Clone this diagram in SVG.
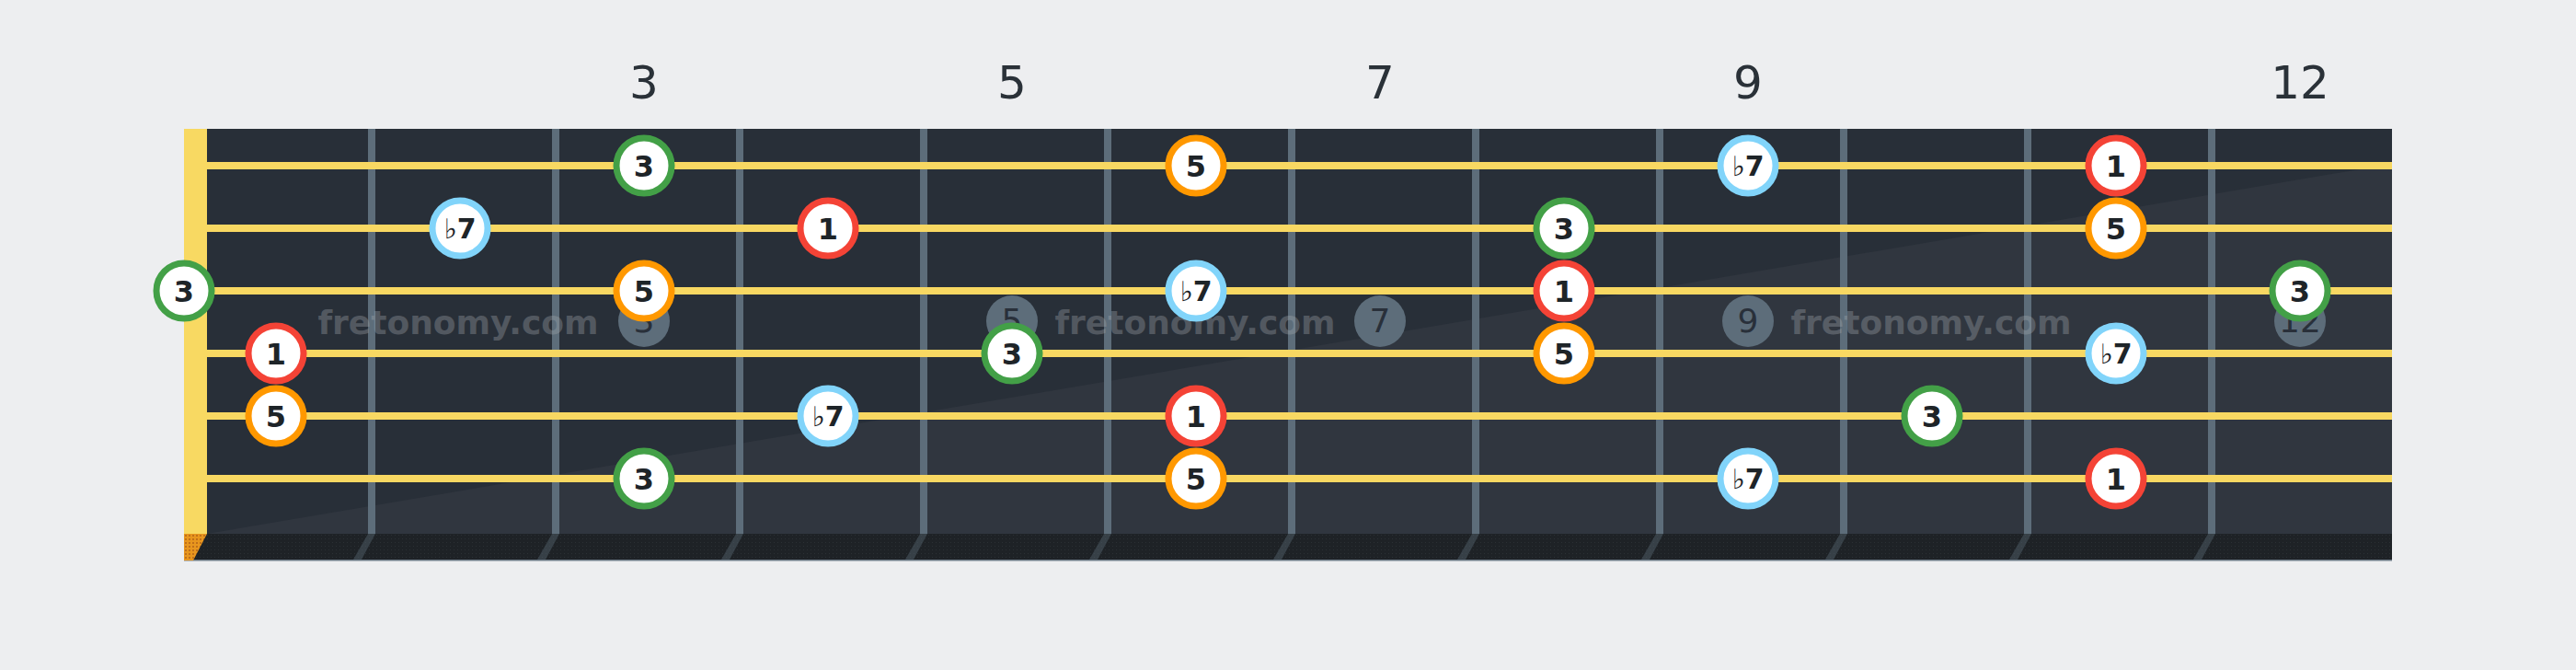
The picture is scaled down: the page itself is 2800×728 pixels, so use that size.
<svg xmlns="http://www.w3.org/2000/svg" width="2800" height="728" viewBox="0 0 2800 728">
<defs>
<style>
.fret{fill:#5d6d7a}
.str{fill:#f8d862}
.shadow{fill:#5d6d7a;opacity:0.4}
.lbl{font-family:"DejaVu Sans",sans-serif;font-size:50px;fill:#2a3138;text-anchor:middle}
.mk circle{fill:#5d6d7a}
.mk text{font-family:"DejaVu Sans",sans-serif;font-size:36px;fill:#29303a;text-anchor:middle}
.wm{font-family:"DejaVu Sans",sans-serif;font-weight:bold;font-size:36px;fill:#a8adb2;opacity:0.33;text-anchor:middle}
.note circle{fill:#ffffff;stroke-width:7}
.note text{font-family:"DejaVu Sans",sans-serif;font-weight:bold;font-size:32px;fill:#1e2428;text-anchor:middle}
.note text.f{font-size:30px}
.note tspan.fl{font-weight:normal}
.r1 circle{stroke:#f44336}
.r3 circle{stroke:#43a047}
.r5 circle{stroke:#ff9800}
.r7 circle{stroke:#81d4fa}
</style>
<pattern id="dots" width="4" height="4" patternUnits="userSpaceOnUse">
<rect width="4" height="4" fill="#1e2226"/>
<rect x="1" y="1" width="1" height="1" fill="#2b3034"/>
</pattern>
<pattern id="odots" width="4" height="4" patternUnits="userSpaceOnUse">
<rect width="4" height="4" fill="#e8961e"/>
<rect x="1" y="1" width="2" height="2" fill="#c0701a"/>
</pattern>
</defs>
<rect width="2800" height="728" fill="#edeef0"/>
<g id="fret-labels">
<text class="lbl" x="700" y="107">3</text>
<text class="lbl" x="1100" y="107">5</text>
<text class="lbl" x="1500" y="107">7</text>
<text class="lbl" x="1900" y="107">9</text>
<text class="lbl" x="2500" y="107">12</text>
</g>
<g id="board">
<rect x="225" y="140" width="2375" height="440" fill="#282f38"/>
<polygon points="225,580 2600,178 2600,580" fill="#30363f"/>
<rect x="200" y="580" width="2400" height="28" fill="url(#dots)"/>
<rect x="200" y="608" width="2400" height="1.5" fill="#6b7884"/>
<polygon points="200,580 225,580 210,609 200,609" fill="url(#odots)"/>
<rect x="200" y="140" width="25" height="440" fill="#f8d962"/>
<g id="frets">
<rect class="fret" x="400" y="140" width="8" height="440"/>
<rect class="fret" x="600" y="140" width="8" height="440"/>
<rect class="fret" x="800" y="140" width="8" height="440"/>
<rect class="fret" x="1000" y="140" width="8" height="440"/>
<rect class="fret" x="1200" y="140" width="8" height="440"/>
<rect class="fret" x="1400" y="140" width="8" height="440"/>
<rect class="fret" x="1600" y="140" width="8" height="440"/>
<rect class="fret" x="1800" y="140" width="8" height="440"/>
<rect class="fret" x="2000" y="140" width="8" height="440"/>
<rect class="fret" x="2200" y="140" width="8" height="440"/>
<rect class="fret" x="2400" y="140" width="8" height="440"/>
</g>
<g id="fret-shadows">
<polygon class="shadow" points="400,580 408,580 393,608 384,608"/>
<polygon class="shadow" points="600,580 608,580 593,608 584,608"/>
<polygon class="shadow" points="800,580 808,580 793,608 784,608"/>
<polygon class="shadow" points="1000,580 1008,580 993,608 984,608"/>
<polygon class="shadow" points="1200,580 1208,580 1193,608 1184,608"/>
<polygon class="shadow" points="1400,580 1408,580 1393,608 1384,608"/>
<polygon class="shadow" points="1600,580 1608,580 1593,608 1584,608"/>
<polygon class="shadow" points="1800,580 1808,580 1793,608 1784,608"/>
<polygon class="shadow" points="2000,580 2008,580 1993,608 1984,608"/>
<polygon class="shadow" points="2200,580 2208,580 2193,608 2184,608"/>
<polygon class="shadow" points="2400,580 2408,580 2393,608 2384,608"/>
</g>
<g id="strings">
<rect class="str" x="225" y="176" width="2375" height="8"/>
<rect class="str" x="225" y="244" width="2375" height="8"/>
<rect class="str" x="225" y="312" width="2375" height="8"/>
<rect class="str" x="225" y="380" width="2375" height="8"/>
<rect class="str" x="225" y="448" width="2375" height="8"/>
<rect class="str" x="225" y="516" width="2375" height="8"/>
</g>
<g id="markers">
<g class="mk"><circle cx="700" cy="349" r="28"/><text x="700" y="361">3</text></g>
<g class="mk"><circle cx="1100" cy="349" r="28"/><text x="1100" y="361">5</text></g>
<g class="mk"><circle cx="1500" cy="349" r="28"/><text x="1500" y="361">7</text></g>
<g class="mk"><circle cx="1900" cy="349" r="28"/><text x="1900" y="361">9</text></g>
<g class="mk"><circle cx="2500" cy="349" r="28"/><text x="2500" y="361">12</text></g>
</g>
<g id="watermark">
<text class="wm" x="498" y="363">fretonomy.com</text>
<text class="wm" x="1299" y="363">fretonomy.com</text>
<text class="wm" x="2099" y="363">fretonomy.com</text>
</g>
</g>
<g id="connectors"></g>
<g id="notes">
<g id="s1f3" class="note r3"><circle cx="700" cy="180" r="30"/><text x="700" y="191.5">3</text></g>
<g id="s1f6" class="note r5"><circle cx="1300" cy="180" r="30"/><text x="1300" y="191.5">5</text></g>
<g id="s1f9" class="note r7"><circle cx="1900" cy="180" r="30"/><text class="f" x="1900" y="191">
<tspan class="fl">♭</tspan>7</text></g>
<g id="s1f11" class="note r1"><circle cx="2300" cy="180" r="30"/><text x="2300" y="191.5">1</text></g>

<g id="s2f2" class="note r7"><circle cx="500" cy="248" r="30"/><text class="f" x="500" y="259"><tspan class="fl">♭</tspan>7</text></g>
<g id="s2f4" class="note r1"><circle cx="900" cy="248" r="30"/><text x="900" y="259.5">1</text></g>
<g id="s2f8" class="note r3"><circle cx="1700" cy="248" r="30"/><text x="1700" y="259.5">3</text></g>
<g id="s2f11" class="note r5"><circle cx="2300" cy="248" r="30"/><text x="2300" y="259.5">5</text></g>

<g id="s3f0" class="note r3"><circle cx="200" cy="316" r="30"/><text x="200" y="327.5">3</text></g>
<g id="s3f3" class="note r5"><circle cx="700" cy="316" r="30"/><text x="700" y="327.5">5</text></g>
<g id="s3f6" class="note r7"><circle cx="1300" cy="316" r="30"/><text class="f" x="1300" y="327"><tspan class="fl">♭</tspan>7</text></g>
<g id="s3f8" class="note r1"><circle cx="1700" cy="316" r="30"/><text x="1700" y="327.5">1</text></g>
<g id="s3f12" class="note r3"><circle cx="2500" cy="316" r="30"/><text x="2500" y="327.5">3</text></g>

<g id="s4f1" class="note r1"><circle cx="300" cy="384" r="30"/><text x="300" y="395.5">1</text></g>
<g id="s4f5" class="note r3"><circle cx="1100" cy="384" r="30"/><text x="1100" y="395.5">3</text></g>
<g id="s4f8" class="note r5"><circle cx="1700" cy="384" r="30"/><text x="1700" y="395.5">5</text></g>
<g id="s4f11" class="note r7"><circle cx="2300" cy="384" r="30"/><text class="f" x="2300" y="395"><tspan class="fl">♭</tspan>7</text></g>

<g id="s5f1" class="note r5"><circle cx="300" cy="452" r="30"/><text x="300" y="463.5">5</text></g>
<g id="s5f4" class="note r7"><circle cx="900" cy="452" r="30"/><text class="f" x="900" y="463"><tspan class="fl">♭</tspan>7</text></g>
<g id="s5f6" class="note r1"><circle cx="1300" cy="452" r="30"/><text x="1300" y="463.5">1</text></g>
<g id="s5f10" class="note r3"><circle cx="2100" cy="452" r="30"/><text x="2100" y="463.5">3</text></g>

<g id="s6f3" class="note r3"><circle cx="700" cy="520" r="30"/><text x="700" y="531.5">3</text></g>
<g id="s6f6" class="note r5"><circle cx="1300" cy="520" r="30"/><text x="1300" y="531.5">5</text></g>
<g id="s6f9" class="note r7"><circle cx="1900" cy="520" r="30"/><text class="f" x="1900" y="531"><tspan class="fl">♭</tspan>7</text></g>
<g id="s6f11" class="note r1"><circle cx="2300" cy="520" r="30"/><text x="2300" y="531.5">1</text></g>
</g>
</svg>
